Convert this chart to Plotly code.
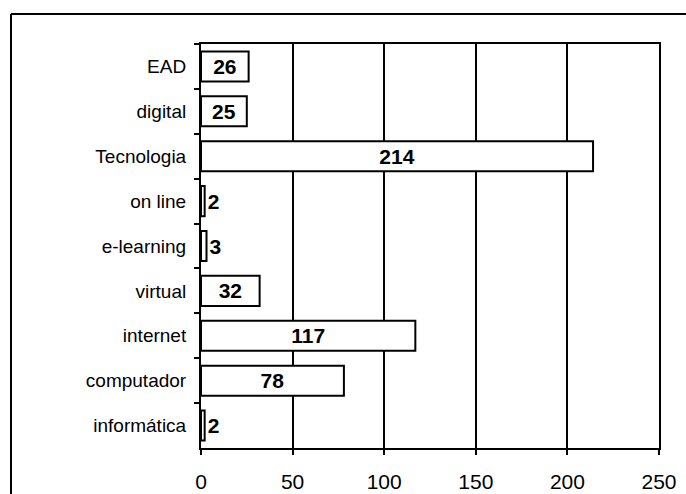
import plotly.graph_objects as go

# Termos pesquisados e número de ocorrências
termos = ["EAD", "digital", "Tecnologia", "on line", "e-learning",
          "virtual", "internet", "computador", "informática"]
ocorrencias = [26, 25, 214, 2, 3, 32, 117, 78, 2]
ticks_x = [0, 50, 100, 150, 200, 250]

FONTE = "Liberation Sans, Arial, sans-serif"

fig = go.Figure(
    go.Bar(
        x=ocorrencias,
        y=termos,
        orientation="h",
        marker=dict(color="white", line=dict(color="black", width=2)),
        text=[f"<b>{v}</b>" for v in ocorrencias],
        textposition="auto",
        insidetextanchor="middle",
        constraintext="none",
        textfont=dict(family=FONTE, size=21, color="black"),
        cliponaxis=False,
    )
)

# moldura externa: apenas bordas superior e esquerda ficam visíveis
moldura = dict(line=dict(color="black", width=2), xref="paper", yref="paper",
               layer="below")
x_esq = -190 / 458
y_topo = 1 + 30 / 404

fig.update_layout(
    width=686,
    height=494,
    margin=dict(l=201, r=27, t=44, b=46),
    paper_bgcolor="white",
    plot_bgcolor="white",
    bargap=0.33,
    showlegend=False,
    font=dict(family=FONTE, color="black"),
    shapes=[
        dict(type="line", x0=x_esq, x1=2, y0=y_topo, y1=y_topo, **moldura),
        dict(type="line", x0=x_esq, x1=x_esq, y0=y_topo, y1=-1, **moldura),
    ],
)

fig.update_xaxes(
    range=[0, 250],
    tickvals=ticks_x,
    ticks="outside",
    ticklen=5,
    tickcolor="black",
    tickwidth=1.5,
    ticklabelstandoff=9,
    tickfont=dict(size=21, family=FONTE, color="black"),
    showgrid=True,
    gridcolor="black",
    gridwidth=1.5,
    showline=True,
    linecolor="black",
    linewidth=2,
    mirror=True,
    zeroline=False,
    automargin=False,
    fixedrange=True,
)

fig.update_yaxes(
    autorange="reversed",
    type="category",
    tickson="boundaries",
    ticks="outside",
    ticklen=5,
    tickcolor="black",
    tickwidth=1.5,
    ticklabelstandoff=9,
    tickfont=dict(size=19, family=FONTE, color="black"),
    showline=True,
    linecolor="black",
    linewidth=2,
    mirror=True,
    showgrid=False,
    automargin=False,
    fixedrange=True,
)

fig.write_html("out.html")
